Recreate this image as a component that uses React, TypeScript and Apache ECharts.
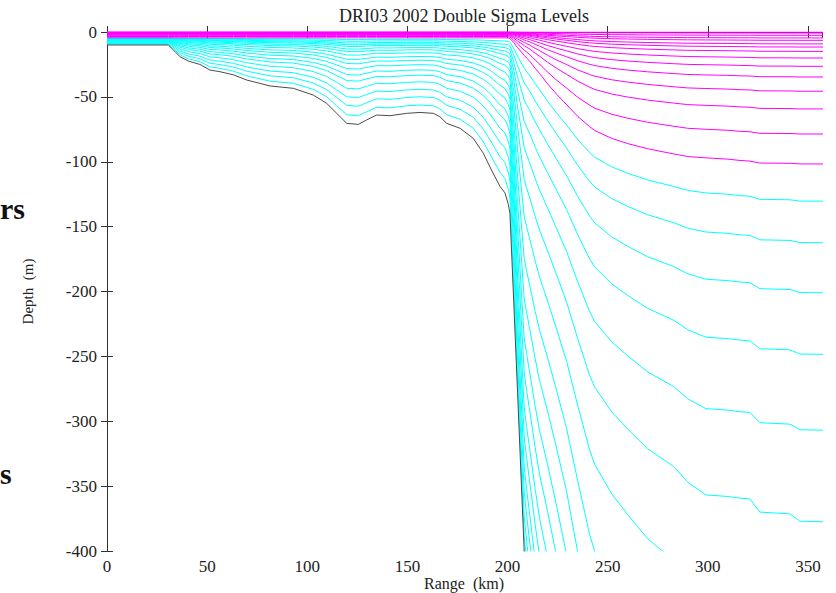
import React, { useEffect, useRef } from "react";
import * as echarts from "echarts";

// Section stations along the transect (km)
const rangeKm = [
  0, 30.6, 33.9, 36.4, 40.6, 46.4, 51.4, 56.4, 63.1, 69.7, 81.4, 93, 103, 109.7,
  114.7, 119.7, 125.5, 129.6, 134.6, 141.3, 149.6, 156.3, 163, 166.2, 169.6,
  176.3, 182.9, 187.9, 191.2, 196.2, 198.7, 200.4, 201.2, 203, 205, 208.3,
  209.5, 210.8, 212.3, 213.8, 216, 220, 224.5, 229.5, 235, 241, 243.6, 252,
  260, 270, 283, 290, 299, 310, 316, 321, 326, 341, 346, 358,
];

// Water depth at each station (m, positive down)
const bottomDepth = [
  10, 10, 15, 19, 22.4, 25, 29.3, 30.6, 33, 37, 41.6, 43.4, 48.6, 55,
  62.7, 70.4, 71.2, 67.8, 64, 64.5, 62.7, 62, 62.7, 65.3, 70.4,
  74.2, 82, 93.5, 104, 119, 124, 133, 140, 205, 278, 400,
  420, 440, 462, 485, 515, 555, 605, 665, 750, 840, 868, 925,
  966, 1015, 1058, 1100, 1136, 1138, 1140, 1141, 1177, 1182, 1203, 1205,
];

// Depth of the interface between the upper and lower sigma layers (m)
const interfaceDepth = [
  4.5, 4.5, 4.5, 4.5, 4.5, 4.5, 4.5, 4.5, 4.5, 4.5, 4.5, 4.5, 4.5, 4.5,
  4.5, 4.5, 4.5, 4.5, 4.5, 4.5, 4.5, 4.5, 4.5, 4.5, 4.5,
  4.5, 4.5, 4.5, 4.5, 4.5, 4.5, 4.6, 5, 8, 12, 18,
  20, 22, 25, 28, 32, 40, 48, 56, 65, 73, 76, 82,
  86, 90, 94, 96, 97, 98, 99, 99.5, 101, 101.2, 101.7, 101.7,
];

// Upper layer levels, as fractions of the interface depth
const upperSigma = [
  0, 0.008, 0.025, 0.045, 0.063, 0.09, 0.114, 0.147, 0.197, 0.26, 0.341,
  0.449, 0.583, 0.773, 1.0,
];

// Lower layer levels, fractions of the interface-to-bottom thickness
const lowerSigmaShelf = [
  0.02, 0.04, 0.06, 0.08, 0.1, 0.13, 0.16, 0.2, 0.25, 0.3, 0.36, 0.43, 0.5,
  0.59, 0.69, 0.79, 0.9,
];
const lowerSigmaDeep = [
  0.026, 0.055, 0.09, 0.133, 0.186, 0.25, 0.325, 0.41, 0.49, 0.57, 0.64, 0.71,
  0.77, 0.83, 0.88, 0.93, 0.97,
];

// Lower layer thickness (m) over which shelf spacing gives way to deep spacing
const shelfThickness = 100;
const deepThickness = 300;

const SERIF = "'Liberation Serif', 'DejaVu Serif', serif";

function deepWeight(thickness: number): number {
  const w = (thickness - shelfThickness) / (deepThickness - shelfThickness);
  return Math.max(0, Math.min(1, w));
}

function buildSeries() {
  const series: any[] = [];
  const lineBase = {
    type: "line",
    symbol: "none",
    silent: true,
    clip: true,
    animation: false,
  };

  lowerSigmaShelf.forEach((sShelf, k) => {
    const sDeep = lowerSigmaDeep[k];
    const data = rangeKm.map((x, i) => {
      const top = interfaceDepth[i];
      const thick = bottomDepth[i] - top;
      const w = deepWeight(thick);
      const s = (1 - w) * sShelf + w * sDeep;
      return [x, -(top + s * thick)];
    });
    series.push({
      ...lineBase,
      name: `lower ${k + 1}`,
      data,
      lineStyle: { color: "#00ffff", width: 1 },
    });
  });

  upperSigma.forEach((s, k) => {
    const data = rangeKm.map((x, i) => [x, -(s * interfaceDepth[i])]);
    series.push({
      ...lineBase,
      name: `upper ${k}`,
      data,
      lineStyle: { color: "#ff00ff", width: 1 },
    });
  });

  series.push({
    ...lineBase,
    name: "bottom",
    data: rangeKm.map((x, i) => [x, -bottomDepth[i]]),
    lineStyle: { color: "#4a4a4a", width: 1 },
  });

  return series;
}

export default function App() {
  const ref = useRef<HTMLDivElement>(null);

  useEffect(() => {
    document.body.style.margin = "0";
    if (!ref.current) return;
    const chart = echarts.init(ref.current, null, { renderer: "svg" });

    const axisLine = { show: true, lineStyle: { color: "#333", width: 1 } };
    const tick = { show: true, inside: true, length: 6, lineStyle: { color: "#333" } };

    chart.setOption({
      animation: false,
      backgroundColor: "#ffffff",
      grid: {
        left: 107,
        right: 14,
        top: 32,
        bottom: 42,
        containLabel: false,
        outerBoundsMode: "none",
      },
      xAxis: [
        {
          type: "value",
          min: 0,
          max: 357,
          interval: 50,
          position: "bottom",
          axisLine,
          axisTick: tick,
          splitLine: { show: false },
          axisLabel: {
            fontFamily: SERIF,
            fontSize: 17,
            color: "#222",
            margin: 7,
            showMaxLabel: false,
          },
        },
        {
          type: "value",
          min: 0,
          max: 357,
          interval: 50,
          position: "top",
          axisLine,
          axisTick: tick,
          splitLine: { show: false },
          axisLabel: { show: false },
        },
      ],
      yAxis: [
        {
          type: "value",
          min: -400,
          max: 0,
          interval: 50,
          position: "left",
          name: "Depth  (m)",
          nameLocation: "middle",
          nameGap: 72,
          nameRotate: 90,
          nameTextStyle: { fontFamily: SERIF, fontSize: 15, color: "#222" },
          axisLine,
          axisTick: tick,
          splitLine: { show: false },
          axisLabel: { fontFamily: SERIF, fontSize: 17, color: "#222", margin: 10 },
        },
        {
          type: "value",
          min: -400,
          max: 0,
          interval: 50,
          position: "right",
          axisLine,
          axisTick: tick,
          splitLine: { show: false },
          axisLabel: { show: false },
        },
      ],
      graphic: [
        {
          type: "text",
          x: 464,
          y: 16,
          style: {
            text: "DRI03 2002 Double Sigma Levels",
            font: `18px ${SERIF}`,
            fill: "#222",
            align: "center",
            verticalAlign: "middle",
          },
        },
        {
          type: "text",
          x: 464,
          y: 583,
          style: {
            text: "Range  (km)",
            font: `16px ${SERIF}`,
            fill: "#222",
            align: "center",
            verticalAlign: "middle",
          },
        },
        {
          type: "text",
          x: 0,
          y: 208,
          style: {
            text: "rs",
            font: `bold 30px ${SERIF}`,
            fill: "#111",
            align: "left",
            verticalAlign: "middle",
          },
        },
        {
          type: "text",
          x: 0,
          y: 473,
          style: {
            text: "s",
            font: `bold 30px ${SERIF}`,
            fill: "#111",
            align: "left",
            verticalAlign: "middle",
          },
        },
      ],
      series: buildSeries(),
    });

    return () => chart.dispose();
  }, []);

  return <div ref={ref} style={{ width: 836, height: 593 }} />;
}
